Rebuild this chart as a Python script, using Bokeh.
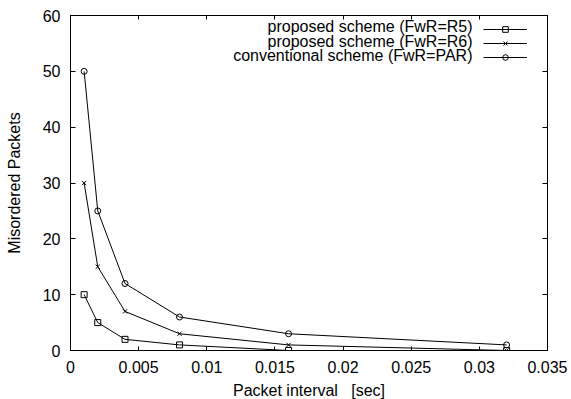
from bokeh.plotting import figure
from bokeh.models import (FixedTicker, LinearAxis, Legend, LegendItem, Label, Range1d, Title)
from bokeh.embed import file_html
from bokeh.resources import INLINE

# ---- data ----
intervals = [0.001, 0.002, 0.004, 0.008, 0.016, 0.032]
r5_values = [10, 5, 2, 1, 0, 0]
r6_values = [30, 15, 7, 3, 1, 0]
par_values = [50, 25, 12, 6, 3, 1]
series_names = ["proposed scheme (FwR=R5)",
                "proposed scheme (FwR=R6)",
                "conventional scheme (FwR=PAR)"]
x_ticks = [0, 0.005, 0.01, 0.015, 0.02, 0.025, 0.03, 0.035]
x_tick_labels = ["0", "0.005", "0.01", "0.015", "0.02", "0.025", "0.03", "0.035"]
y_ticks = [0, 10, 20, 30, 40, 50, 60]
y_tick_labels = ["0", "10", "20", "30", "40", "50", "60"]
x_title = "Packet interval\u00a0\u00a0\u00a0[sec]"
y_title = "Misordered Packets"

FONT = "Liberation Sans"
FS = "16px"
FW, FH = 477, 335

p = figure(frame_width=FW, frame_height=FH, output_backend="svg", toolbar_location=None,
           x_range=Range1d(0, 0.035), y_range=Range1d(0, 60),
           min_border_left=70, min_border_right=24, min_border_top=15,
           min_border_bottom=49,
           y_axis_label=y_title)
p.grid.visible = False
p.outline_line_color = "black"
p.outline_line_width = 1
p.background_fill_color = "white"
p.border_fill_color = "white"

def style_axis(ax, ticks, labels, tick_len, standoff, show):
    ax.ticker = FixedTicker(ticks=ticks)
    ax.major_label_overrides = {t: (l if show else "") for t, l in zip(ticks, labels)}
    ax.major_tick_in = tick_len
    ax.major_tick_out = 0
    ax.minor_tick_in = 0
    ax.minor_tick_out = 0
    ax.major_tick_line_color = "black"
    ax.axis_line_color = "black"
    ax.axis_line_width = 1
    ax.major_label_text_font = FONT
    ax.major_label_text_font_size = FS if show else "0px"
    ax.major_label_text_color = "black"
    ax.major_label_standoff = standoff if show else 0
    ax.axis_label_text_font = FONT
    ax.axis_label_text_font_size = FS
    ax.axis_label_text_font_style = "normal"
    ax.axis_label_text_color = "black"

style_axis(p.xaxis[0], x_ticks, x_tick_labels, 4, 10, True)
style_axis(p.yaxis[0], y_ticks, y_tick_labels, 5, 10, True)
p.yaxis[0].axis_label_standoff = 17

# x-axis title as a panel below the axis
p.add_layout(Title(text=x_title, align="center", text_font=FONT, text_font_size=FS,
                   text_font_style="normal", text_color="black", standoff=8,
                   offset=0), "below")

top_ax = LinearAxis()
right_ax = LinearAxis()
style_axis(top_ax, x_ticks, x_tick_labels, 4, 0, False)
style_axis(right_ax, y_ticks, y_tick_labels, 5, 0, False)
p.add_layout(top_ax, "above")
p.add_layout(right_ax, "right")

markers = ["square", "x", "circle"]
values = [r5_values, r6_values, par_values]
items = []
for name, vals, mk in zip(series_names, values, markers):
    ln = p.line(intervals, vals, line_color="black", line_width=1)
    sc = p.scatter(intervals, vals, marker=mk, size=6, line_color="black",
                   fill_color=None, line_width=1)
    items.append(LegendItem(label=" ", renderers=[ln, sc]))

legend = Legend(items=items, location=(413, 286.5), padding=0, margin=0,
                spacing=0, glyph_width=44, glyph_height=14, label_width=0,
                label_standoff=0, label_text_font_size="1px",
                background_fill_alpha=0, border_line_alpha=0)
p.add_layout(legend, "center")

row_y = [324, 309, 295]
for name, ry in zip(series_names, row_y):
    p.add_layout(Label(x=402, y=ry, x_units="screen", y_units="screen",
                       text=name, text_align="right", text_baseline="middle",
                       text_font=FONT, text_font_size=FS, text_color="black"))

open("out.html", "w").write(file_html(p, INLINE))
